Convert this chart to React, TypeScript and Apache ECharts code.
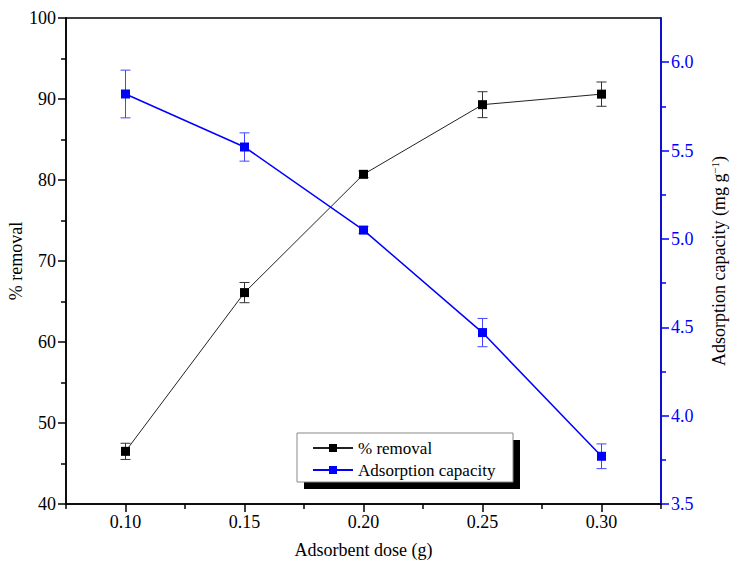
import React, { useEffect, useRef } from "react";
import * as echarts from "echarts";

// Adsorbent dose (g)
const doses = [0.1, 0.15, 0.2, 0.25, 0.3];
// % removal with standard deviations
const removal = [46.5, 66.1, 80.7, 89.3, 90.6];
const removalErr = [1.0, 1.25, 0.4, 1.6, 1.5];
// Adsorption capacity (mg g-1) with standard deviations
const capacity = [5.82, 5.52, 5.05, 4.47, 3.77];
const capacityErr = [0.135, 0.08, 0.02, 0.08, 0.07];

// Axis ticks
const doseTicks = [0.1, 0.15, 0.2, 0.25, 0.3];
const doseMinorTicks = [0.075, 0.125, 0.175, 0.225, 0.275, 0.325];
const removalTicks = [40, 50, 60, 70, 80, 90, 100];
const removalMinorTicks = [45, 55, 65, 75, 85, 95];
const capacityTicks = [3.5, 4.0, 4.5, 5.0, 5.5, 6.0];
const capacityMinorTicks = [3.75, 4.25, 4.75, 5.25, 5.75];

const FONT = '"Liberation Serif", "Times New Roman", serif';
const BLUE = "#0000ff";
const TICK_FONT = 18;
const TITLE_FONT = 18;

function errorSeries(name: string, yAxisIndex: number, values: number[], errs: number[], color: string) {
  return {
    name: name + " err",
    type: "custom",
    yAxisIndex,
    z: 3,
    silent: true,
    data: doses.map((d, i) => [d, values[i] - errs[i], values[i] + errs[i]]),
    encode: { x: 0, y: [1, 2] },
    renderItem: (_params: any, api: any) => {
      const lo = api.coord([api.value(0), api.value(1)]);
      const hi = api.coord([api.value(0), api.value(2)]);
      const half = 5;
      const style = { stroke: color, lineWidth: 1 };
      return {
        type: "group",
        children: [
          { type: "line", shape: { x1: lo[0], y1: lo[1], x2: hi[0], y2: hi[1] }, style },
          { type: "line", shape: { x1: hi[0] - half, y1: hi[1], x2: hi[0] + half, y2: hi[1] }, style },
          { type: "line", shape: { x1: lo[0] - half, y1: lo[1], x2: lo[0] + half, y2: lo[1] }, style },
        ],
      };
    },
  };
}

export default function App() {
  const ref = useRef<HTMLDivElement>(null);

  useEffect(() => {
    if (!ref.current) return;
    const chart = echarts.init(ref.current, undefined, { renderer: "svg" });
    const axisLineBlack = { show: true, lineStyle: { color: "#000", width: 1.5 } };
    const axisLineBlue = { show: true, lineStyle: { color: BLUE, width: 1.5 } };

    chart.setOption({
      animation: false,
      backgroundColor: "#fff",
      textStyle: { fontFamily: FONT },
      grid: {
        left: 66,
        right: 76,
        top: 18,
        bottom: 77,
        show: true,
        borderColor: "#000",
        borderWidth: 1.5,
        outerBoundsMode: "none",
      },
      legend: {
        orient: "vertical",
        left: 312,
        top: 439,
        padding: 0,
        itemWidth: 40,
        itemHeight: 10,
        itemGap: 4,
        data: ["% removal", "Adsorption capacity"],
        textStyle: { fontFamily: FONT, fontSize: 17, color: "#000", lineHeight: 18 },
        z: 10,
      },
      graphic: [
        { type: "rect", z: 5, shape: { x: 304, y: 440, width: 216, height: 49 }, style: { fill: "#000" } },
        {
          type: "rect",
          z: 6,
          shape: { x: 297, y: 433, width: 216, height: 49 },
          style: { fill: "#fff", stroke: "#888", lineWidth: 1 },
        },
      ],
      xAxis: [
        {
          type: "value",
          min: 0.075,
          max: 0.325,
          position: "bottom",
          axisLine: axisLineBlack,
          axisTick: { show: true, customValues: doseTicks, length: 8, lineStyle: { color: "#000", width: 1.5 } },
          axisLabel: {
            customValues: doseTicks,
            formatter: (v: number) => v.toFixed(2),
            color: "#000",
            fontSize: TICK_FONT,
            fontFamily: FONT,
            margin: 9,
          },
          splitLine: { show: false },
          name: "Adsorbent dose (g)",
          nameLocation: "middle",
          nameGap: 37,
          nameMoveOverlap: false,
          nameTextStyle: { color: "#000", fontSize: TITLE_FONT, fontFamily: FONT },
        },
        {
          type: "value",
          min: 0.075,
          max: 0.325,
          position: "bottom",
          axisLine: { show: false },
          axisTick: { show: true, customValues: doseMinorTicks, length: 5, lineStyle: { color: "#000", width: 1.5 } },
          axisLabel: { show: false },
          splitLine: { show: false },
        },
      ],
      yAxis: [
        {
          type: "value",
          min: 40,
          max: 100,
          position: "left",
          axisLine: axisLineBlack,
          axisTick: { show: true, customValues: removalTicks, length: 8, lineStyle: { color: "#000", width: 1.5 } },
          axisLabel: {
            customValues: removalTicks,
            color: "#000",
            fontSize: TICK_FONT,
            fontFamily: FONT,
            margin: 10,
          },
          splitLine: { show: false },
          name: "% removal",
          nameLocation: "middle",
          nameRotate: 90,
          nameGap: 41,
          nameMoveOverlap: false,
          nameTextStyle: { color: "#000", fontSize: TITLE_FONT, fontFamily: FONT },
        },
        {
          type: "value",
          min: 3.5,
          max: 6.25,
          position: "right",
          axisLine: axisLineBlue,
          axisTick: { show: true, customValues: capacityTicks, length: 8, lineStyle: { color: BLUE, width: 1.5 } },
          axisLabel: {
            customValues: capacityTicks,
            formatter: (v: number) => v.toFixed(1),
            color: BLUE,
            fontSize: TICK_FONT,
            fontFamily: FONT,
            margin: 10,
          },
          splitLine: { show: false },
          name: "{a|Adsorption capacity (mg g}{s|−1}{a|)}",
          nameLocation: "middle",
          nameRotate: 90,
          nameGap: 48,
          nameMoveOverlap: false,
          nameTextStyle: {
            color: "#000",
            fontSize: TITLE_FONT,
            fontFamily: FONT,
            rich: {
              a: { fontSize: TITLE_FONT, fontFamily: FONT, color: "#000", lineHeight: 20 },
              s: { fontSize: 11, fontFamily: FONT, color: "#000", verticalAlign: "top", lineHeight: 20 },
            },
          },
        },
        {
          type: "value",
          min: 40,
          max: 100,
          position: "left",
          axisLine: { show: false },
          axisTick: { show: true, customValues: removalMinorTicks, length: 5, lineStyle: { color: "#000", width: 1.5 } },
          axisLabel: { show: false },
          splitLine: { show: false },
        },
        {
          type: "value",
          min: 3.5,
          max: 6.25,
          position: "right",
          axisLine: { show: false },
          axisTick: { show: true, customValues: capacityMinorTicks, length: 5, lineStyle: { color: BLUE, width: 1.5 } },
          axisLabel: { show: false },
          splitLine: { show: false },
        },
      ],
      series: [
        errorSeries("% removal", 0, removal, removalErr, "#333"),
        errorSeries("Adsorption capacity", 1, capacity, capacityErr, "#4444ff"),
        {
          name: "% removal",
          type: "line",
          yAxisIndex: 0,
          data: doses.map((d, i) => [d, removal[i]]),
          symbol: "rect",
          symbolSize: 9,
          lineStyle: { color: "#222", width: 1 },
          itemStyle: { color: "#000" },
          z: 4,
        },
        {
          name: "Adsorption capacity",
          type: "line",
          yAxisIndex: 1,
          data: doses.map((d, i) => [d, capacity[i]]),
          symbol: "rect",
          symbolSize: 9,
          lineStyle: { color: BLUE, width: 1.5 },
          itemStyle: { color: BLUE },
          z: 4,
        },
      ],
    });

    return () => chart.dispose();
  }, []);

  return <div ref={ref} style={{ position: "fixed", left: 0, top: 0, width: 737, height: 581 }} />;
}
